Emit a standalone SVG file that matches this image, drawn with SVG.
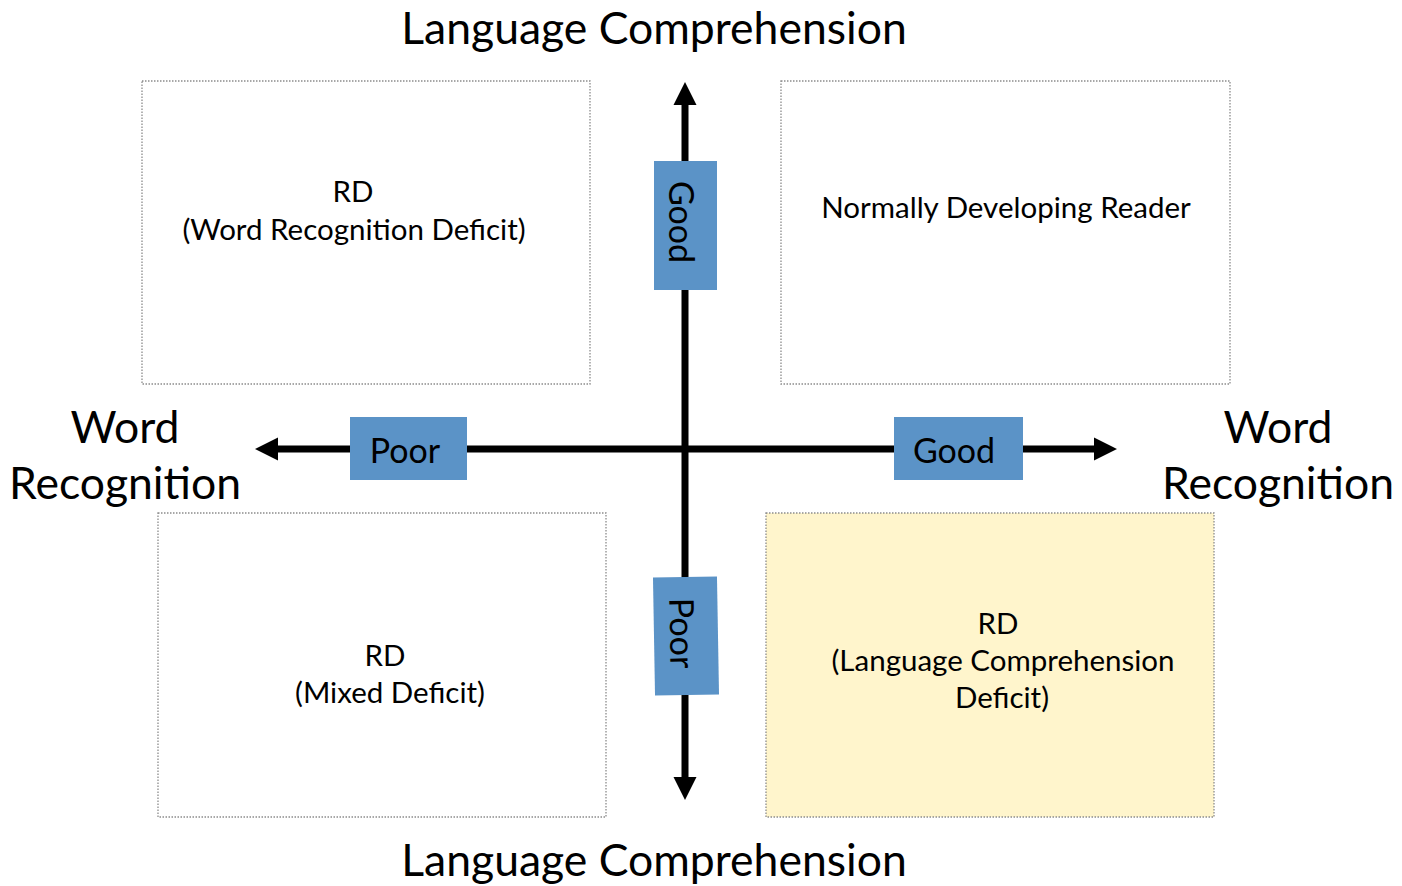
<svg xmlns="http://www.w3.org/2000/svg" width="1402" height="886" viewBox="0 0 1402 886">
  <style>
    text { font-family: Lato, "Open Sans", "Liberation Sans", sans-serif; fill: #000; text-anchor: middle; }
    .title { font-size: 44.5px; }
    .box { fill: #fff; stroke: #8c8c8c; stroke-width: 1.3; stroke-dasharray: 1.5 1.5; }
    .quad { font-size: 29.5px; }
    .tag { fill: #5b93c7; }
    .tagtxt { font-size: 34px; }
    .axis { stroke: #000; stroke-width: 7; fill: none; }
  </style>
  <defs>
    <marker id="arrow" viewBox="0 0 10 10" refX="2" refY="5" markerWidth="3.3" markerHeight="3.3" orient="auto" markerUnits="strokeWidth">
      <path d="M0,0 L10,5 L0,10 Z" fill="#000"/>
    </marker>
  </defs>

  <!-- axis titles -->
  <g id="titles">
    <text class="title" x="654" y="44">Language Comprehension</text>
    <text class="title" x="654" y="876">Language Comprehension</text>
    <text class="title" x="125" y="443">Word</text>
    <text class="title" x="125" y="499">Recognition</text>
    <text class="title" x="1278" y="443">Word</text>
    <text class="title" x="1278" y="499">Recognition</text>
  </g>

  <!-- quadrants -->
  <g id="q-word-deficit">
    <rect class="box" x="142" y="81" width="448" height="303"/>
    <text class="quad" x="353" y="202">RD</text>
    <text class="quad" x="354" y="240">(Word Recognition Deficit)</text>
  </g>
  <g id="q-normal">
    <rect class="box" x="781" y="81" width="449" height="303"/>
    <text class="quad" x="1006" y="218">Normally Developing Reader</text>
  </g>
  <g id="q-mixed">
    <rect class="box" x="158" y="513" width="448" height="304"/>
    <text class="quad" x="385" y="666">RD</text>
    <text class="quad" x="390" y="703">(Mixed Deficit)</text>
  </g>
  <g id="q-language-deficit">
    <rect class="box" x="766" y="513" width="448" height="304" style="fill:#fff5cc"/>
    <text class="quad" x="998" y="634">RD</text>
    <text class="quad" x="1003" y="671">(Language Comprehension</text>
    <text class="quad" x="1002" y="708">Deficit)</text>
  </g>

  <!-- axes -->
  <g id="connectors">
    <line class="axis" x1="685" y1="449" x2="685" y2="100.5" marker-end="url(#arrow)"/>
    <line class="axis" x1="685" y1="449" x2="685" y2="781.5" marker-end="url(#arrow)"/>
    <line class="axis" x1="685" y1="449" x2="273.5" y2="449" marker-end="url(#arrow)"/>
    <line class="axis" x1="685" y1="449" x2="1098.5" y2="449" marker-end="url(#arrow)"/>
  </g>

  <!-- axis labels -->
  <g id="label-good-v">
    <rect class="tag" x="654" y="161" width="63" height="129"/>
    <text class="tagtxt" transform="translate(669 222) rotate(90)">Good</text>
  </g>
  <g id="label-poor-v" transform="rotate(-1 686 636)">
    <rect class="tag" x="654" y="577" width="64" height="118"/>
    <text class="tagtxt" transform="translate(670 633) rotate(90)">Poor</text>
  </g>
  <g id="label-poor-h">
    <rect class="tag" x="350" y="417" width="117" height="63"/>
    <text class="tagtxt" x="405" y="463">Poor</text>
  </g>
  <g id="label-good-h">
    <rect class="tag" x="894" y="417" width="129" height="63"/>
    <text class="tagtxt" x="954" y="463">Good</text>
  </g>
</svg>
